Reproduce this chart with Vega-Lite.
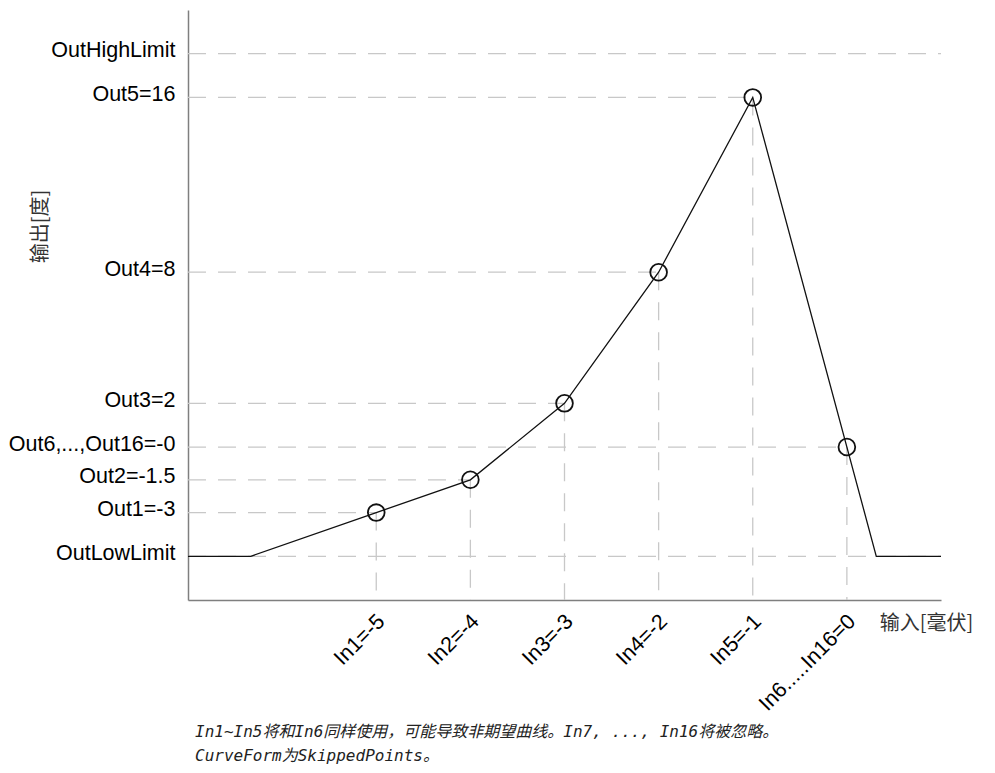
{
  "$schema": "https://vega.github.io/schema/vega-lite/v6.json",
  "width": 753,
  "height": 590,
  "autosize": {"type": "none"},
  "padding": {"left": 188, "top": 10, "right": 54, "bottom": 173},
  "background": "white",
  "config": {"view": {"stroke": null}},
  "title": {
    "text": ["In1~In5将和In6同样使用，可能导致非期望曲线。In7, ..., In16将被忽略。", "CurveForm为SkippedPoints。"],
    "orient": "bottom",
    "anchor": "start",
    "frame": "group",
    "font": "DejaVu Sans Mono, Noto Sans CJK SC",
    "fontSize": 16,
    "fontStyle": "italic",
    "fontWeight": "normal",
    "color": "#222222",
    "lineHeight": 24,
    "offset": 9,
    "dx": 7
  },
  "datasets": {
    "grid": [
      {"in": -7, "in2": 1, "out": 18, "out2": 18},
      {"in": -7, "in2": -1, "out": 16, "out2": 16},
      {"in": -7, "in2": -2, "out": 8, "out2": 8},
      {"in": -7, "in2": -3, "out": 2, "out2": 2},
      {"in": -7, "in2": 0, "out": 0, "out2": 0},
      {"in": -7, "in2": -4, "out": -1.5, "out2": -1.5},
      {"in": -7, "in2": -5, "out": -3, "out2": -3},
      {"in": -7, "in2": 1, "out": -5, "out2": -5},
      {"in": -5, "in2": -5, "out": -3, "out2": -7},
      {"in": -4, "in2": -4, "out": -1.5, "out2": -7},
      {"in": -3, "in2": -3, "out": 2, "out2": -7},
      {"in": -2, "in2": -2, "out": 8, "out2": -7},
      {"in": -1, "in2": -1, "out": 16, "out2": -7},
      {"in": 0, "in2": 0, "out": 0, "out2": -7}
    ],
    "curve": [
      {"in": -7, "out": -5},
      {"in": -6.333, "out": -5},
      {"in": -5, "out": -3},
      {"in": -4, "out": -1.5},
      {"in": -3, "out": 2},
      {"in": -2, "out": 8},
      {"in": -1, "out": 16},
      {"in": 0.3125, "out": -5},
      {"in": 1, "out": -5}
    ],
    "points": [
      {"in": -5, "out": -3},
      {"in": -4, "out": -1.5},
      {"in": -3, "out": 2},
      {"in": -2, "out": 8},
      {"in": -1, "out": 16},
      {"in": 0, "out": 0}
    ]
  },
  "encoding": {
    "x": {
      "field": "in",
      "type": "quantitative",
      "scale": {"domain": [-7, 1], "nice": false, "zero": false},
      "axis": {
        "title": "输入[毫伏]",
        "values": [-5, -4, -3, -2, -1, 0],
        "labelExpr": "datum.value == -5 ? 'In1=-5' : datum.value == -4 ? 'In2=-4' : datum.value == -3 ? 'In3=-3' : datum.value == -2 ? 'In4=-2' : datum.value == -1 ? 'In5=-1' : 'In6.....In16=0'",
        "labelAngle": -45,
        "labelAlign": "right",
        "labelBaseline": "middle",
        "labelPadding": 18,
        "labelOffset": 5,
        "labelFontSize": 21.5,
        "labelFont": "Liberation Sans",
        "labelColor": "#000000",
        "labelFlush": false,
        "labelOverlap": false,
        "labelBound": false,
        "ticks": false,
        "grid": false,
        "domainColor": "#7f7f7f",
        "domainWidth": 1.5,
        "titleFont": "Noto Sans CJK SC",
        "titleFontSize": 20,
        "titleFontWeight": "normal",
        "titleColor": "#333333",
        "titleX": 738,
        "titleY": 23,
        "titleAlign": "center",
        "titleBaseline": "middle",
        "titleAngle": 0
      }
    },
    "y": {
      "field": "out",
      "type": "quantitative",
      "scale": {"domain": [-7, 20], "nice": false, "zero": false},
      "axis": {
        "title": "输出[度]",
        "values": [-5, -3, -1.5, 0, 2, 8, 16, 18],
        "labelExpr": "datum.value == 18 ? 'OutHighLimit' : datum.value == 16 ? 'Out5=16' : datum.value == 8 ? 'Out4=8' : datum.value == 2 ? 'Out3=2' : datum.value == 0 ? 'Out6,...,Out16=-0' : datum.value == -1.5 ? 'Out2=-1.5' : datum.value == -3 ? 'Out1=-3' : 'OutLowLimit'",
        "labelAlign": "right",
        "labelBaseline": "alphabetic",
        "labelOffset": 3,
        "labelPadding": 13,
        "labelFontSize": 21.5,
        "labelFont": "Liberation Sans",
        "labelColor": "#000000",
        "labelFlush": false,
        "labelOverlap": false,
        "labelBound": false,
        "ticks": false,
        "grid": false,
        "domainColor": "#7f7f7f",
        "domainWidth": 1.5,
        "titleFont": "Noto Sans CJK SC",
        "titleFontSize": 20,
        "titleFontWeight": "normal",
        "titleColor": "#333333",
        "titleX": -148,
        "titleY": 216,
        "titleAngle": -90,
        "titleAlign": "center",
        "titleBaseline": "middle"
      }
    }
  },
  "layer": [
    {
      "data": {"name": "grid"},
      "mark": {"type": "rule", "color": "#c8c8c8", "strokeWidth": 1.3, "strokeDash": [18, 12]},
      "encoding": {
        "x2": {"field": "in2"},
        "y2": {"field": "out2"}
      }
    },
    {
      "data": {"name": "curve"},
      "mark": {"type": "line", "color": "#111111", "strokeWidth": 1.3},
      "encoding": {}
    },
    {
      "data": {"name": "points"},
      "mark": {"type": "point", "shape": "circle", "filled": false, "size": 280, "stroke": "#111111", "strokeWidth": 1.8, "opacity": 1},
      "encoding": {}
    }
  ]
}
